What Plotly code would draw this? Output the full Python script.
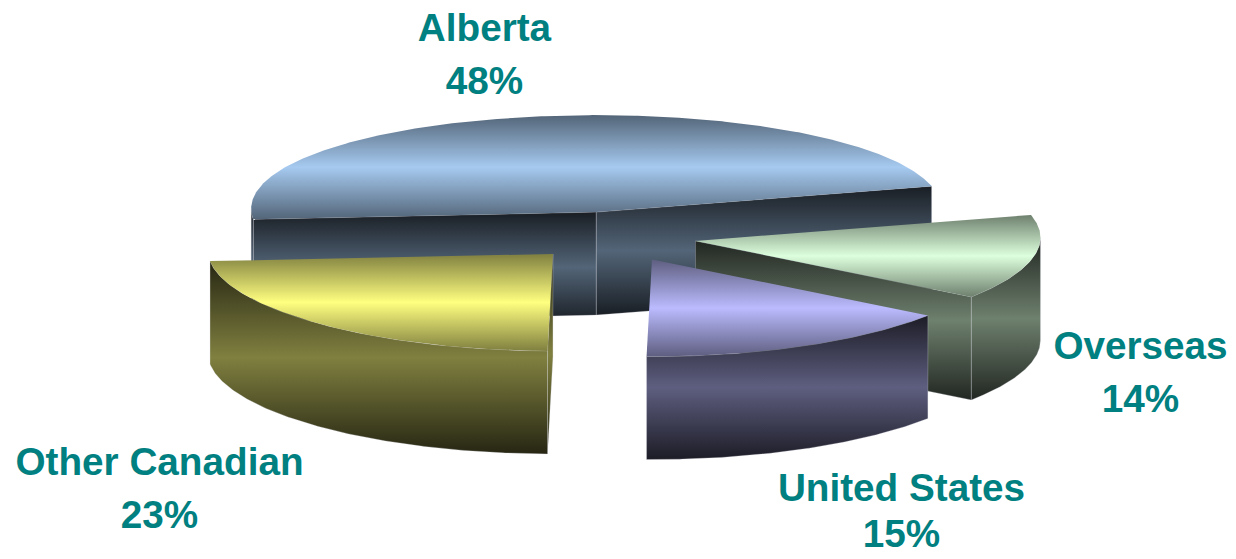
import math
import plotly.graph_objects as go

# Share of total by region, in drawing order around the pie
regions = ["Alberta", "Other Canadian", "United States", "Overseas"]
shares = [48, 23, 15, 14]
slice_colors = ["#A6CAF0", "#FFFF80", "#BBBBFF", "#DDFFDD"]
slice_pull = [0.25, 0.25, 0.27, 0.25]

# Label anchors (x centre, name baseline, share baseline) for the two-line captions
label_x = [484.5, 159.5, 901.5, 1140.5]
label_name_y = [45, 479, 505, 363]
label_share_y = [98, 532, 551, 416]

WIDTH, HEIGHT = 1236, 559
CX, CY = 611, 236          # pie centre before exploding
RX, RY = 345, 97           # tilted ellipse radii
LIFT = 3.5                 # perspective lift of the ellipse's side points
DEPTH = 103                # extrusion height
START_DEG = 13.5
TEAL = "#008080"
EDGE = "rgba(215,215,225,0.4)"
FONT = "Liberation Sans, Arial, sans-serif"
FONT_SIZE = 38.7


def shade(color, k):
    r, g, b = (int(color[i:i + 2], 16) for i in (1, 3, 5))
    return f"rgb({round(r * k)},{round(g * k)},{round(b * k)})"


def project(ox, oy, deg):
    t = math.radians(deg)
    return ox + RX * math.cos(t), oy - RY * math.sin(t) - LIFT * math.cos(t) ** 2


def arc(ox, oy, a0, a1):
    n = max(2, int(abs(a1 - a0) * 2))
    return [project(ox, oy, a0 + (a1 - a0) * i / n) for i in range(n + 1)]


def add_face(fig, pts, base, mid_k, end_k, edge=None):
    xs = [p[0] for p in pts] + [pts[0][0]]
    ys = [p[1] for p in pts] + [pts[0][1]]
    lo, hi = min(ys), max(ys)
    fig.add_trace(go.Scatter(
        x=xs, y=ys, mode="lines", fill="toself",
        line=dict(color=edge or "rgba(0,0,0,0)", width=0.7),
        fillgradient=dict(
            type="vertical", start=lo, stop=hi,
            colorscale=[[0, shade(base, end_k)], [0.5, shade(base, mid_k)], [1, shade(base, end_k)]],
        ),
        hoverinfo="skip", showlegend=False,
    ))


def add_wall(fig, top_pts, base):
    bottom = [(x, y + DEPTH) for x, y in reversed(top_pts)]
    add_face(fig, top_pts + bottom, base, 0.5, 0.15, EDGE)


fig = go.Figure()

# Work out each slice's angular span and exploded apex
spans = []
angle = START_DEG
for share in shares:
    sweep = share * 3.6
    spans.append((angle, angle + sweep))
    angle += sweep

draw_order = [0, 3, 2, 1]
for idx in draw_order:
    a0, a1 = spans[idx]
    mid = math.radians((a0 + a1) / 2)
    ox = CX + slice_pull[idx] * RX * math.cos(mid)
    oy = CY - slice_pull[idx] * RY * math.sin(mid)
    color = slice_colors[idx]
    apex = (ox, oy)

    # Radial cut faces that turn towards the viewer
    if math.sin(math.radians(a0 - 90)) < 0:
        add_wall(fig, [apex, project(ox, oy, a0)], color)
    if math.sin(math.radians(a1 + 90)) < 0:
        add_wall(fig, [apex, project(ox, oy, a1)], color)

    # Outer rim, front half only
    for lo, hi in ((180, 360), (540, 720)):
        s, e = max(a0, lo), min(a1, hi)
        if e > s:
            add_wall(fig, arc(ox, oy, s, e), color)

    # Top cap
    add_face(fig, [apex] + arc(ox, oy, a0, a1), color, 1.0, 0.5)

# Captions: region name and share on two lines
cap_x, cap_y, cap_text = [], [], []
for name, share, x, name_y, share_y in zip(regions, shares, label_x, label_name_y, label_share_y):
    for text, base in ((name, name_y), (f"{share}%", share_y)):
        cap_x.append(x)
        cap_y.append(base - 13.5)
        cap_text.append(f"<b>{text}</b>")

fig.add_trace(go.Scatter(
    x=cap_x, y=cap_y, text=cap_text, mode="text", textposition="middle center",
    textfont=dict(family=FONT, size=FONT_SIZE, color=TEAL),
    hoverinfo="skip", showlegend=False, cliponaxis=False,
))

fig.update_layout(
    width=WIDTH, height=HEIGHT,
    margin=dict(l=0, r=0, t=0, b=0),
    paper_bgcolor="white", plot_bgcolor="white",
    xaxis=dict(visible=False, range=[0, WIDTH], fixedrange=True),
    yaxis=dict(visible=False, range=[HEIGHT, 0], fixedrange=True),
)

fig.write_html("out.html", config={"displayModeBar": False})
